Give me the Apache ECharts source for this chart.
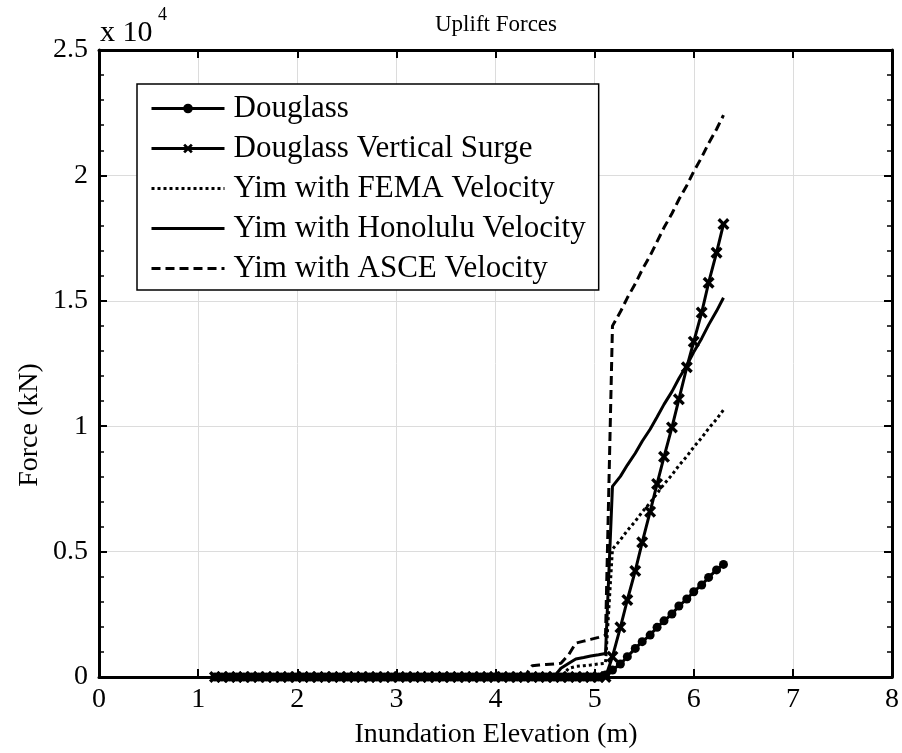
<!DOCTYPE html>
<html>
<head>
<meta charset="utf-8">
<script src="https://cdn.jsdelivr.net/npm/echarts@6/dist/echarts.min.js"></script>
<style>html,body{margin:0;padding:0;background:#fff}#c{width:902px;height:753px}</style>
</head>
<body>
<div id="c"></div>
<script>
// Inundation elevation (m)
const elevation = [
1.17,1.24,1.32,1.39,1.46,1.54,1.61,1.69,1.76,1.84,
1.91,1.99,2.06,2.13,2.21,2.28,2.36,2.43,2.51,2.58,
2.65,2.73,2.80,2.88,2.95,3.03,3.10,3.18,3.25,3.32,
3.40,3.47,3.55,3.62,3.70,3.77,3.85,3.92,3.99,4.07,
4.14,4.22,4.29,4.37,4.44,4.51,4.59,4.66,4.74,4.81,
4.89,4.96,5.04,5.11,5.18,5.26,5.33,5.41,5.48,5.56,
5.63,5.70,5.78,5.85,5.93,6.00,6.08,6.15,6.23,6.30];

// Forces (kN)
const douglass = [
0,0,0,0,0,0,0,0,0,0,
0,0,0,0,0,0,0,0,0,0,
0,0,0,0,0,0,0,0,0,0,
0,0,0,0,0,0,0,0,0,0,
0,0,0,0,0,0,0,0,0,0,
0,0,0,80,280,520,810,1140,1410,1670,
1980,2240,2510,2830,3110,3400,3670,3970,4270,4490];

const douglassVertical = [
0,0,0,0,0,0,0,0,0,0,
0,0,0,0,0,0,0,0,0,0,
0,0,0,0,0,0,0,0,0,0,
0,0,0,0,0,0,0,0,0,0,
0,0,0,0,0,0,0,0,0,0,
0,0,0,0,810,1980,3070,4230,5370,6590,
7700,8780,9950,11070,12350,13370,14530,15720,16920,18060];

const yimFema = [
0,0,0,0,0,0,0,0,0,0,
0,0,0,0,0,0,0,0,0,0,
0,0,0,0,0,0,0,0,0,0,
0,0,0,0,0,0,0,0,0,0,
0,0,0,0,0,0,0,0,350,420,
450,480,520,550,5100,5470,5840,6210,6580,6950,
7320,7690,8060,8430,8800,9170,9540,9910,10280,10650];

const yimHonolulu = [
0,0,0,0,0,0,0,0,0,0,
0,0,0,0,0,0,0,0,0,0,
0,0,0,0,0,0,0,0,0,0,
0,0,0,0,0,0,0,0,0,0,
0,0,0,0,0,0,0,350,550,720,
780,840,890,940,7600,8000,8450,8920,9400,9880,
10370,10870,11380,11900,12430,12960,13500,14040,14590,15120];

const yimAsce = [
0,0,0,0,0,0,0,0,0,0,
0,0,0,0,0,0,0,0,0,0,
0,0,0,0,0,0,0,0,0,0,
0,0,0,0,0,0,0,0,0,0,
0,0,0,450,480,500,520,550,900,1350,
1430,1500,1580,1670,14000,14560,15120,15680,16240,16800,
17360,17920,18480,19040,19600,20160,20720,21280,21840,22400];

const seriesNames = ['Douglass','Douglass Vertical Surge','Yim with FEMA Velocity','Yim with Honolulu Velocity','Yim with ASCE Velocity'];
const xTicks = [0,1,2,3,4,5,6,7,8];
const yTickLabels = ['0','0.5','1','1.5','2','2.5'];

const FONT = "'Liberation Serif','Times New Roman',serif";
const pair = ys => elevation.map((x,i)=>[x, ys[i]]);
const xMark = 'path://M2,0 L5,3 L8,0 L10,2 L7,5 L10,8 L8,10 L5,7 L2,10 L0,8 L3,5 L0,2 Z';

const chart = echarts.init(document.getElementById('c'), null, {renderer:'canvas'});

const tickStyle = {show:true, inside:true, length:8, lineStyle:{color:'#000', width:2}};
const axisLineStyle = {show:true, onZero:false, lineStyle:{color:'#000', width:3}};
const hidden = {opacity:0, color:'transparent', borderWidth:0};

chart.setOption({
  animation:false,
  backgroundColor:'#fff',
  grid:{left:99, right:9, top:50, bottom:76, containLabel:false},
  xAxis:[{
    type:'value', min:xTicks[0], max:xTicks[xTicks.length-1], interval:1, position:'bottom',
    axisLine:axisLineStyle, axisTick:tickStyle,
    axisLabel:{color:'#000', fontFamily:FONT, fontSize:28, margin:9},
    splitLine:{show:true, lineStyle:{color:'#dcdcdc', width:1}}
  },{
    type:'value', min:0, max:8, interval:1, position:'top',
    axisLine:axisLineStyle, axisTick:tickStyle, axisLabel:{show:false}, splitLine:{show:false}
  }],
  yAxis:[{
    type:'value', min:0, max:25000, interval:5000, position:'left',
    axisLine:axisLineStyle, axisTick:tickStyle,
    minorTick:{show:true, splitNumber:5, length:5, lineStyle:{color:'#000', width:1.5}},
    axisLabel:{color:'#000', fontFamily:FONT, fontSize:28, margin:11,
      formatter: v => yTickLabels[Math.round(v/5000)]},
    splitLine:{show:true, lineStyle:{color:'#dcdcdc', width:1}}
  },{
    type:'value', min:0, max:25000, interval:5000, position:'right',
    axisLine:axisLineStyle, axisTick:tickStyle,
    minorTick:{show:true, splitNumber:5, length:5, lineStyle:{color:'#000', width:1.5}},
    axisLabel:{show:false}, splitLine:{show:false}
  }],
  legend:{
    data:[
      {name:seriesNames[0]},
      {name:seriesNames[1]},
      {name:seriesNames[2], itemStyle:hidden},
      {name:seriesNames[3], itemStyle:hidden},
      {name:seriesNames[4], itemStyle:hidden}
    ],
    orient:'vertical', left:137, top:84,
    padding:[9,13,6,13], backgroundColor:'#fff', borderColor:'#000', borderWidth:1.5, borderRadius:0,
    itemWidth:73, itemHeight:12, itemGap:9,
    lineStyle:{width:3},
    textStyle:{fontFamily:FONT, fontSize:31, color:'#000', lineHeight:29, padding:[0,0,0,4]}
  },
  series:[
    {name:seriesNames[0], type:'line', data:pair(douglass), symbol:'circle', symbolSize:9, showAllSymbol:true,
     lineStyle:{color:'#000', width:3}, itemStyle:{color:'#000'}},
    {name:seriesNames[1], type:'line', data:pair(douglassVertical), symbol:xMark, symbolSize:12, showAllSymbol:true,
     lineStyle:{color:'#000', width:3}, itemStyle:{color:'#000'}},
    {name:seriesNames[2], type:'line', data:pair(yimFema), symbol:'none',
     lineStyle:{color:'#000', width:3, type:[3,3]}, itemStyle:{color:'#000'}},
    {name:seriesNames[3], type:'line', data:pair(yimHonolulu), symbol:'none',
     lineStyle:{color:'#000', width:3}, itemStyle:{color:'#000'}},
    {name:seriesNames[4], type:'line', data:pair(yimAsce), symbol:'none',
     lineStyle:{color:'#000', width:3, type:[9,5]}, itemStyle:{color:'#000'}}
  ],
  graphic:[
    {type:'text', style:{text:'Uplift Forces', x:496, y:25, fontFamily:FONT, fontSize:23, fill:'#000', textAlign:'center', textVerticalAlign:'middle'}},
    {type:'text', style:{text:'x 10', x:100, y:33, fontFamily:FONT, fontSize:30, fill:'#000', textAlign:'left', textVerticalAlign:'middle'}},
    {type:'text', style:{text:'4', x:158, y:15, fontFamily:FONT, fontSize:18, fill:'#000', textAlign:'left', textVerticalAlign:'middle'}},
    {type:'text', style:{text:'Inundation Elevation (m)', x:496, y:735, fontFamily:FONT, fontSize:28, fill:'#000', textAlign:'center', textVerticalAlign:'middle'}},
    {type:'text', x:30, y:425, rotation:Math.PI/2, style:{text:'Force (kN)', x:0, y:0, fontFamily:FONT, fontSize:28, fill:'#000', textAlign:'center', textVerticalAlign:'middle'}}
  ]
});
</script>
</body>
</html>
